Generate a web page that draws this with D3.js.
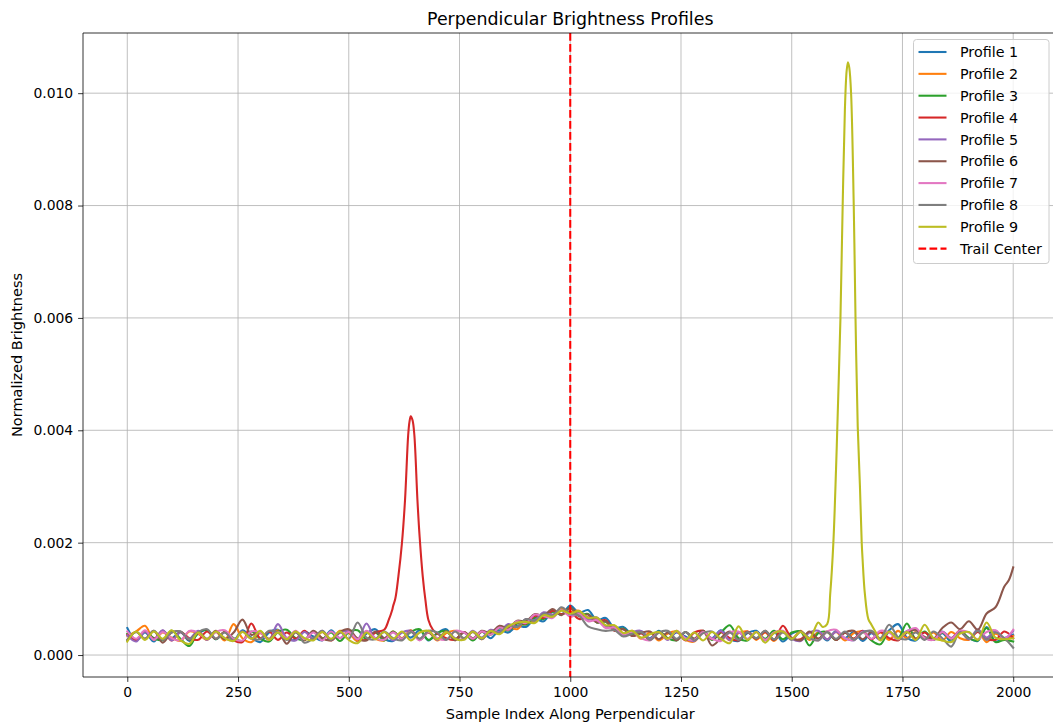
<!DOCTYPE html>
<html><head><meta charset="utf-8">
<script src="https://cdn.jsdelivr.net/npm/d3@7"></script>
<style>body{margin:0;background:#fff}svg{display:block;font-family:"DejaVu Sans",sans-serif}</style>
</head><body><svg id="c" width="1053" height="725"></svg>
<script>
// ---- data ----
const sampleIdx = d3.range(0, 2001, 20); // sample positions 0,20,...,2000
const profile1 = [.00048,.00026,.00040,.00024,.00043,.00030,.00041,.00025,.00038,.00045,
 .00028,.00041,.00026,.00044,.00031,.00023,.00040,.00045,.00029,.00027,
 .00042,.00033,.00026,.00044,.00030,.00041,.00024,.00038,.00046,.00029,
 .00025,.00041,.00031,.00044,.00026,.00039,.00046,.00028,.00040,.00027,
 .00042,.00030,.00044,.00040,.00052,.00050,.00064,.00060,.00078,.00072,
 .00088,.00075,.00080,.00062,.00066,.00048,.00050,.00037,.00042,.00030,
 .00043,.00028,.00040,.00033,.00026,.00041,.00030,.00044,.00029,.00025,
 .00039,.00043,.00027,.00041,.00024,.00038,.00042,.00028,.00040,.00026,
 .00043,.00030,.00041,.00025,.00039,.00028,.00044,.00055,.00031,.00026,
 .00041,.00028,.00039,.00024,.00042,.00030,.00025,.00050,.00024,.00030,.00036];
const profile2 = [.00034,.00042,.00052,.00027,.00040,.00031,.00025,.00042,.00038,.00027,
 .00041,.00026,.00055,.00030,.00023,.00039,.00027,.00044,.00029,.00041,
 .00026,.00042,.00030,.00027,.00043,.00039,.00025,.00041,.00029,.00026,
 .00042,.00030,.00044,.00028,.00040,.00026,.00039,.00043,.00029,.00041,
 .00028,.00043,.00038,.00050,.00046,.00062,.00058,.00074,.00068,.00082,
 .00077,.00079,.00064,.00066,.00050,.00052,.00038,.00043,.00029,.00040,
 .00026,.00038,.00042,.00027,.00024,.00040,.00028,.00041,.00026,.00039,
 .00042,.00027,.00040,.00025,.00041,.00029,.00043,.00027,.00040,.00028,
 .00041,.00026,.00039,.00042,.00028,.00040,.00027,.00043,.00030,.00041,
 .00028,.00040,.00026,.00041,.00030,.00027,.00042,.00023,.00038,.00029,.00034];
const profile3 = [.00038,.00027,.00042,.00030,.00026,.00043,.00029,.00016,.00040,.00044,
 .00028,.00041,.00030,.00025,.00042,.00029,.00024,.00041,.00045,.00030,
 .00027,.00042,.00029,.00040,.00025,.00041,.00044,.00028,.00040,.00026,
 .00042,.00029,.00041,.00046,.00027,.00039,.00043,.00028,.00040,.00026,
 .00041,.00036,.00048,.00044,.00056,.00054,.00067,.00064,.00077,.00072,
 .00084,.00071,.00073,.00058,.00059,.00045,.00047,.00035,.00040,.00028,
 .00042,.00030,.00026,.00041,.00029,.00043,.00027,.00040,.00053,.00030,
 .00026,.00041,.00029,.00043,.00028,.00040,.00042,.00017,.00039,.00041,
 .00027,.00040,.00029,.00042,.00026,.00019,.00041,.00030,.00056,.00029,
 .00042,.00027,.00040,.00028,.00043,.00030,.00026,.00048,.00023,.00027,.00024];
const profile4 = [.00036,.00027,.00042,.00029,.00043,.00026,.00041,.00030,.00027,.00042,
 .00029,.00041,.00026,.00023,.00056,.00030,.00042,.00027,.00040,.00029,
 .00043,.00028,.00041,.00026,.00040,.00042,.00029,.00027,.00040,.00045,
 .00087,.00199,.00425,.00210,.00062,.00038,.00030,.00027,.00041,.00029,
 .00042,.00037,.00050,.00045,.00058,.00056,.00070,.00066,.00079,.00073,
 .00076,.00064,.00067,.00060,.00062,.00043,.00046,.00034,.00039,.00027,
 .00041,.00029,.00042,.00026,.00040,.00043,.00028,.00041,.00030,.00026,
 .00042,.00029,.00041,.00027,.00052,.00030,.00028,.00041,.00029,.00042,
 .00027,.00040,.00029,.00043,.00028,.00041,.00030,.00026,.00042,.00029,
 .00040,.00027,.00041,.00030,.00043,.00028,.00041,.00029,.00027,.00042,.00030];
const profile5 = [.00035,.00024,.00042,.00028,.00044,.00026,.00040,.00029,.00043,.00027,
 .00041,.00030,.00026,.00042,.00029,.00041,.00027,.00055,.00030,.00026,
 .00041,.00029,.00043,.00027,.00040,.00042,.00028,.00056,.00030,.00041,
 .00026,.00040,.00043,.00029,.00041,.00027,.00042,.00030,.00028,.00043,
 .00031,.00045,.00041,.00055,.00050,.00064,.00062,.00076,.00072,.00080,
 .00070,.00075,.00063,.00067,.00051,.00050,.00036,.00041,.00043,.00029,
 .00040,.00027,.00042,.00030,.00025,.00041,.00029,.00043,.00027,.00040,
 .00028,.00041,.00026,.00039,.00042,.00029,.00025,.00040,.00043,.00028,
 .00041,.00030,.00026,.00042,.00040,.00027,.00041,.00029,.00043,.00045,
 .00031,.00027,.00042,.00030,.00041,.00028,.00046,.00031,.00043,.00029,.00043];
const profile6 = [.00027,.00041,.00029,.00043,.00022,.00040,.00042,.00027,.00041,.00029,
 .00043,.00028,.00040,.00063,.00036,.00041,.00029,.00042,.00020,.00040,
 .00027,.00043,.00030,.00026,.00041,.00046,.00029,.00026,.00042,.00030,
 .00041,.00028,.00043,.00027,.00040,.00029,.00042,.00026,.00041,.00030,
 .00043,.00039,.00052,.00048,.00061,.00060,.00073,.00070,.00082,.00071,
 .00084,.00069,.00072,.00058,.00060,.00044,.00046,.00034,.00039,.00042,
 .00028,.00040,.00026,.00041,.00029,.00043,.00017,.00030,.00042,.00027,
 .00040,.00029,.00043,.00027,.00041,.00030,.00026,.00042,.00029,.00041,
 .00027,.00040,.00043,.00028,.00041,.00029,.00042,.00027,.00040,.00045,
 .00032,.00029,.00048,.00058,.00046,.00060,.00045,.00074,.00085,.00122,.00156];
const profile7 = [.00042,.00029,.00044,.00027,.00041,.00030,.00026,.00043,.00040,.00028,
 .00041,.00044,.00029,.00026,.00042,.00040,.00027,.00041,.00030,.00043,
 .00028,.00040,.00026,.00042,.00030,.00041,.00028,.00043,.00030,.00027,
 .00040,.00029,.00042,.00026,.00041,.00030,.00027,.00043,.00040,.00029,
 .00042,.00036,.00049,.00045,.00060,.00057,.00072,.00069,.00066,.00080,
 .00068,.00073,.00060,.00062,.00048,.00049,.00037,.00041,.00030,.00026,
 .00041,.00028,.00043,.00030,.00027,.00041,.00029,.00025,.00040,.00042,
 .00029,.00041,.00027,.00040,.00043,.00028,.00041,.00030,.00026,.00042,
 .00045,.00030,.00027,.00041,.00029,.00043,.00040,.00028,.00042,.00048,
 .00030,.00027,.00041,.00029,.00043,.00040,.00028,.00041,.00044,.00030,.00045];
const profile8 = [.00026,.00041,.00029,.00043,.00027,.00040,.00042,.00028,.00041,.00046,
 .00029,.00040,.00026,.00042,.00030,.00028,.00043,.00040,.00027,.00041,
 .00022,.00030,.00043,.00027,.00041,.00029,.00058,.00031,.00028,.00042,
 .00030,.00026,.00041,.00029,.00043,.00040,.00027,.00042,.00030,.00041,
 .00028,.00043,.00039,.00053,.00050,.00064,.00061,.00074,.00070,.00085,
 .00074,.00070,.00051,.00046,.00043,.00044,.00033,.00038,.00041,.00027,
 .00040,.00043,.00029,.00041,.00026,.00039,.00042,.00028,.00040,.00027,
 .00041,.00030,.00043,.00028,.00040,.00027,.00042,.00030,.00026,.00041,
 .00029,.00042,.00027,.00040,.00043,.00030,.00054,.00032,.00028,.00040,
 .00027,.00042,.00030,.00015,.00041,.00029,.00043,.00027,.00040,.00030,.00013];
const profile9 = [.00024,.00042,.00027,.00042,.00029,.00044,.00026,.00020,.00040,.00028,
 .00042,.00030,.00025,.00041,.00029,.00043,.00027,.00040,.00028,.00042,
 .00030,.00026,.00041,.00029,.00042,.00027,.00021,.00040,.00028,.00041,
 .00029,.00042,.00026,.00040,.00043,.00028,.00041,.00029,.00027,.00042,
 .00030,.00043,.00037,.00051,.00058,.00059,.00057,.00071,.00068,.00079,
 .00074,.00078,.00066,.00067,.00053,.00053,.00039,.00043,.00031,.00037,
 .00041,.00029,.00043,.00027,.00040,.00026,.00041,.00029,.00021,.00051,
 .00027,.00041,.00022,.00039,.00042,.00029,.00041,.00030,.00058,.00055,
 .00330,.00970,.00800,.00170,.00054,.00026,.00042,.00029,.00041,.00027,
 .00054,.00030,.00026,.00023,.00038,.00041,.00027,.00058,.00031,.00028,.00030];
// extra finely-sampled points around the two peaks
const peak4X = [590,598,605,612,627,634,637,644,648,655,667,673,690];
const peak4Y = [.00062,.00080,.00100,.00140,.00276,.00390,.00415,.00418,.00392,.00276,.00140,.00098,.00045];
const peak9X = [1570,1587,1594,1605,1610,1615,1624,1627,1630,1634,1644,1649,1654,1658,1665,1673,1690];
const peak9Y = [.00050,.00110,.00200,.00460,.00600,.00800,.01040,.01055,.01045,.01000,.00600,.00407,.00300,.00200,.00110,.00064,.00040];
const extra6X = [1990];
const extra6Y = [.00133];
const seriesNames = ["Profile 1","Profile 2","Profile 3","Profile 4","Profile 5","Profile 6","Profile 7","Profile 8","Profile 9"];
const colors = ["#1f77b4","#ff7f0e","#2ca02c","#d62728","#9467bd","#8c564b","#e377c2","#7f7f7f","#bcbd22"];
const trailCenter = 1000;
const xTicks = [0,250,500,750,1000,1250,1500,1750,2000];
const yTicks = [0,0.002,0.004,0.006,0.008,0.010];

// ---- build series ----
function build(vals, ex, ey){
  const pts = sampleIdx.map((x,i)=>({x, y: vals[i]}));
  if (ex) ex.forEach((x,i)=>pts.push({x, y: ey[i]}));
  return pts.sort((a,b)=>a.x-b.x);
}
const series = [
  build(profile1), build(profile2), build(profile3), build(profile4, peak4X, peak4Y),
  build(profile5), build(profile6, extra6X, extra6Y), build(profile7), build(profile8),
  build(profile9, peak9X, peak9Y)
];

// ---- layout ----
const svg = d3.select("#c");
const L = 83, T = 33, R = 1057.5, B = 677;
const x = d3.scaleLinear().domain([-100, 2100]).range([L, R]);
const allY = series.flat().map(d=>d.y);
const [ymin, ymax] = d3.extent(allY);
const pad = (ymax - ymin) * 0.05;
const y = d3.scaleLinear().domain([ymin - pad, ymax + pad]).range([B, T]);

svg.append("defs").append("clipPath").attr("id","clip")
  .append("rect").attr("x",L).attr("y",T).attr("width",R-L).attr("height",B-T);

// grid
const grid = svg.append("g");
xTicks.forEach(t=>grid.append("line").attr("x1",x(t)).attr("x2",x(t)).attr("y1",T).attr("y2",B)
  .attr("stroke","#b0b0b0").attr("stroke-width",0.8));
yTicks.forEach(t=>grid.append("line").attr("x1",L).attr("x2",R).attr("y1",y(t)).attr("y2",y(t))
  .attr("stroke","#b0b0b0").attr("stroke-width",0.8));

// lines
const line = d3.line().x(d=>x(d.x)).y(d=>y(d.y)).curve(d3.curveCatmullRom.alpha(0.5));
const plot = svg.append("g").attr("clip-path","url(#clip)");
series.forEach((s,i)=>plot.append("path").datum(s).attr("d",line)
  .attr("fill","none").attr("stroke",colors[i]).attr("stroke-width",1.5*1.389)
  .attr("stroke-linejoin","round").attr("stroke-linecap","square"));
plot.append("line").attr("x1",x(trailCenter)).attr("x2",x(trailCenter)).attr("y1",T).attr("y2",B)
  .attr("stroke","#ff0000").attr("stroke-width",1.5*1.389).attr("stroke-dasharray","7.7,3.3");

// axes
const xAxis = d3.axisBottom(x).tickValues(xTicks).tickSize(4.9).tickPadding(4.9).tickFormat(d3.format("d"));
const yAxis = d3.axisLeft(y).tickValues(yTicks).tickSize(4.9).tickPadding(4.9).tickFormat(d3.format(".3f"));
const gx = svg.append("g").attr("transform",`translate(0,${B})`).call(xAxis);
const gy = svg.append("g").attr("transform",`translate(${L},0)`).call(yAxis);
[gx,gy].forEach(g=>{
  g.select(".domain").remove();
  g.selectAll(".tick line").attr("stroke","#000").attr("stroke-width",0.8);
  g.selectAll(".tick text").attr("fill","#000").style("font-size","13.9px").style("font-family","DejaVu Sans");
});
// spines
const sp = svg.append("g").attr("stroke","#000").attr("stroke-width",0.8).attr("fill","none");
sp.append("line").attr("x1",L).attr("x2",L).attr("y1",T).attr("y2",B);
sp.append("line").attr("x1",L).attr("x2",R).attr("y1",B).attr("y2",B);
sp.append("line").attr("x1",L).attr("x2",R).attr("y1",T).attr("y2",T);
sp.append("line").attr("x1",R).attr("x2",R).attr("y1",T).attr("y2",B);

// labels
svg.append("text").attr("x",(L+R)/2).attr("y",25).attr("text-anchor","middle")
  .style("font-size","17.4px").text("Perpendicular Brightness Profiles");
svg.append("text").attr("x",(L+R)/2).attr("y",719).attr("text-anchor","middle")
  .style("font-size","14.5px").text("Sample Index Along Perpendicular");
svg.append("text").attr("transform",`translate(22,${(T+B)/2}) rotate(-90)`).attr("text-anchor","middle")
  .style("font-size","14.5px").text("Normalized Brightness");

// legend
const lg = svg.append("g");
lg.append("rect").attr("x",913.5).attr("y",39.5).attr("width",135.5).attr("height",224)
  .attr("rx",3).attr("fill","#fff").attr("fill-opacity",0.8).attr("stroke","#cccccc");
const legItems = seriesNames.map((n,i)=>({n, c: colors[i], dash: null})).concat([{n:"Trail Center", c:"#ff0000", dash:"7.7,3.3"}]);
legItems.forEach((it,i)=>{
  const cy = 52 + i*21.85;
  lg.append("line").attr("x1",918.5).attr("x2",946.5).attr("y1",cy).attr("y2",cy)
    .attr("stroke",it.c).attr("stroke-width",1.5*1.389).attr("stroke-dasharray",it.dash);
  lg.append("text").attr("x",960).attr("y",cy).attr("dy","0.36em").style("font-size","14.3px").text(it.n);
});
</script></body></html>
